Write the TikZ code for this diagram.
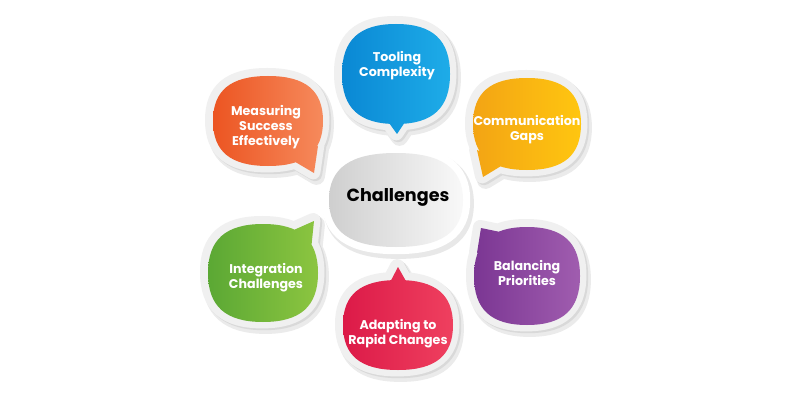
\documentclass[tikz,border=0pt]{standalone}
\usepackage{fontspec}
\setmainfont{Poppins}
\definecolor{toolL}{HTML}{0A88D4} \definecolor{toolR}{HTML}{1EACE8}
\definecolor{commL}{HTML}{F3A414} \definecolor{commR}{HTML}{FFC610}
\definecolor{balL}{HTML}{7B3693} \definecolor{balR}{HTML}{A05DAF}
\definecolor{adaptL}{HTML}{DC1A48} \definecolor{adaptR}{HTML}{EF405F}
\definecolor{integL}{HTML}{5BA834} \definecolor{integR}{HTML}{8CC540}
\definecolor{measL}{HTML}{EC5522} \definecolor{measR}{HTML}{F68A5C}

\begin{document}
\begin{tikzpicture}[x=0.025cm, y=-0.025cm, line join=round,
    txt/.style={text=white, font=\bfseries\fontsize{9}{10.6}\selectfont, align=center}]
    \def\blob#1#2#3#4{(#1+#3,#2) .. controls (#1+#3,#2+0.68*#4) and (#1+0.68*#3,#2+#4) .. (#1,#2+#4)
        .. controls (#1-0.68*#3,#2+#4) and (#1-#3,#2+0.68*#4) .. (#1-#3,#2)
        .. controls (#1-#3,#2-0.68*#4) and (#1-0.68*#3,#2-#4) .. (#1,#2-#4)
        .. controls (#1+0.68*#3,#2-#4) and (#1+#3,#2-0.68*#4) .. cycle}
    \def\bubble#1#2#3#4#5#6#7#8{%
        \filldraw[gray!16, line width=0.42cm, shift={(2.5,3.5)}] \blob{#1}{#2}{#3}{#4} #5 -- #6 -- #7 -- cycle;
        \filldraw[gray!30, line width=0.36cm, shift={(1,1)}] \blob{#1}{#2}{#3}{#4} #5 -- #6 -- #7 -- cycle;
        \filldraw[gray!12, line width=0.36cm, shift={(-0.8,-0.8)}] \blob{#1}{#2}{#3}{#4} #5 -- #6 -- #7 -- cycle;
        \shade[left color=#8L, right color=#8R] \blob{#1}{#2}{#3}{#4} #5 -- #6 -- #7 -- cycle;
    }

    \useasboundingbox (0,0) rectangle (800,400);
    \fill[white] (0,0) rectangle (800,400);

    % centre
    \filldraw[gray!18, line width=0.42cm, shift={(2.5,3.5)}] \blob{396}{200}{67}{47};
    \filldraw[white, line width=0.36cm] \blob{396}{200}{67}{47};
    \shade[left color=gray!38, right color=gray!5] \blob{396}{200}{67}{47};
    \node[font=\bfseries\fontsize{12.5}{14}\selectfont] (chal) at (398,197) {Challenges};

    % speech bubbles
    \bubble{396}{74}{54}{50}{(409,116)}{(397,134)}{(384,116)}{tool}
    \bubble{527}{124}{54}{46}{(506,163)}{(483,177)}{(477,150)}{comm}
    \bubble{527}{276}{53}{49}{(477,253)}{(481,228)}{(505,233)}{bal}
    \bubble{398}{325}{55}{45}{(386,290)}{(398,267)}{(411,290)}{adapt}
    \bubble{263}{273}{55}{49}{(287,233)}{(314,221)}{(311,250)}{integ}
    \bubble{268}{121}{55}{45}{(318,146)}{(314,173)}{(292,160)}{meas}

    \node[txt] (tool) at (397,66) {Tooling\\Complexity};
    \node[txt] (comm) at (527,130) {Communication\\Gaps};
    \node[txt] (bal) at (527,273) {Balancing\\Priorities};
    \node[txt] (adapt) at (398,334) {Adapting to\\Rapid Changes};
    \node[txt] (integ) at (266,278) {Integration\\Challenges};
    \node[txt] (meas) at (266,127) {Measuring\\Success\\Effectively};
\end{tikzpicture}
\end{document}
